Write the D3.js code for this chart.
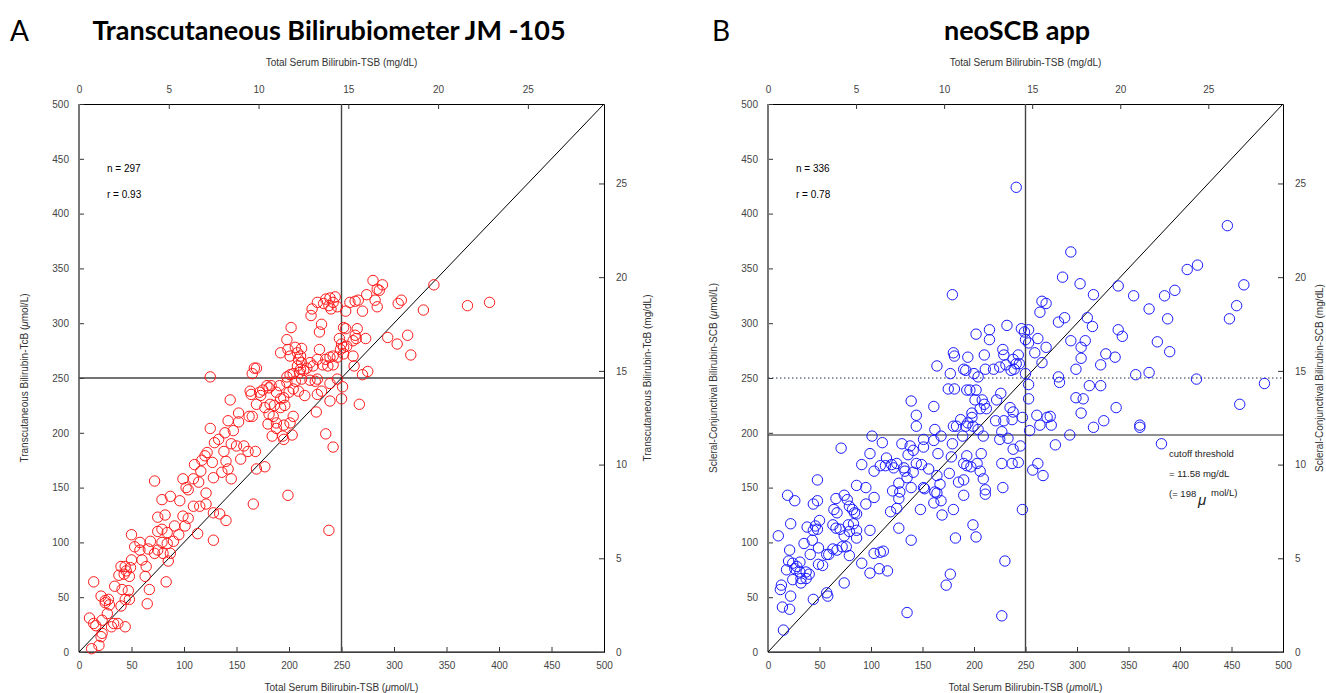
<!DOCTYPE html>
<html>
<head>
<meta charset="utf-8">
<script src="https://cdn.jsdelivr.net/npm/d3@7"></script>
<style>
  body { margin: 0; background: #fff; }
  svg text { font-family: "Liberation Sans", Arial, sans-serif; }
</style>
</head>
<body>
<div id="chart"></div>
<script>
// values in umol/L: [TSB, device]
const jmPoints = [
  [12,3],[19,6],[21,14],[22,17],[10,31],[14,26],[16,24],[22,29],[27,35],[33,26],[37,26],[31,23],[44,23],
  [25,45],[28,48],[21,51],[25,47],[29,43],[40,42],[48,48],[44,48],[14,64],[34,60],[41,57],[47,56],[43,71],
  [48,69],[40,78],[44,78],[49,77],[45,74],[38,70],[65,44],[67,57],[83,64],[63,69],[64,78],[60,84],[50,84],
  [58,93],[53,96],[58,100],[50,107],[66,94],[72,90],[68,101],[75,93],[80,90],[85,83],[87,90],[79,100],
  [84,99],[90,101],[75,110],[79,112],[84,109],[91,115],[95,107],[101,115],[75,123],[82,125],[99,124],
  [104,122],[113,108],[128,102],[109,133],[115,133],[121,135],[128,127],[134,126],[140,120],[96,138],
  [79,139],[87,142],[72,156],[99,158],[102,150],[104,148],[109,158],[114,155],[110,171],[116,165],[121,145],
  [128,159],[136,164],[145,158],[142,167],[140,174],[127,173],[117,175],[122,182],[120,179],[129,191],
  [133,194],[138,183],[139,200],[147,202],[142,211],[152,218],[144,230],[152,210],[125,204],[145,190],
  [150,188],[125,251],
  [280,339],[289,335],[284,331],[286,330],[274,326],[282,321],[284,315],[266,321],[263,320],[258,319],
  [254,311],[270,311],[244,324],[239,323],[235,322],[242,319],[238,316],[246,315],[240,313],[233,318],
  [227,319],[222,313],[221,307],[231,299],[229,292],[202,296],[252,296],[254,295],[265,295],[263,289],
  [261,284],[264,286],[273,286],[248,286],[250,281],[252,278],[255,279],[249,276],[252,272],[261,270],
  [242,270],[246,269],[262,261],[270,253],[275,256],[294,287],[303,281],[313,289],[316,271],[304,318],
  [307,321],[328,312],[338,335],[198,285],[192,273],[199,276],[206,278],[212,277],[208,273],[211,270],
  [201,270],[209,267],[212,264],[208,261],[211,258],[220,264],[227,267],[229,276],[235,267],[237,261],
  [232,262],[239,269],[242,262],[217,259],[223,261],[167,259],[169,259],[165,254],[198,251],[201,253],
  [204,254],[210,255],[214,257],[227,249],[225,247],[220,248],[212,249],[206,247],[198,246],[191,243],
  [183,243],[181,241],[179,243],[175,239],[172,237],[163,238],[164,235],[169,226],[173,234],[188,237],
  [192,231],[195,232],[200,237],[204,240],[209,238],[215,234],[227,235],[231,238],[239,245],[246,249],
  [251,242],[250,231],[239,229],[267,226],[226,219],[204,215],[201,209],[195,207],[188,209],[185,215],
  [181,217],[165,215],[162,215],[180,208],[196,225],[192,223],[186,225],[182,226],[177,223],[188,204],
  [184,197],[194,197],[203,198],[195,194],[235,199],[242,187],[157,188],[161,183],[168,183],[154,176],
  [169,167],[177,169],[199,143],[166,135],[238,111],[370,316],[391,319]
];

const scbPoints = [
  [179,326],[202,290],[215,294],[215,285],[180,273],[181,270],[194,269],[210,271],[228,276],[229,271],
  [232,298],[164,261],[190,258],[192,257],[200,254],[204,251],[211,258],[219,258],[225,260],[231,262],
  [177,254],[175,240],[181,240],[193,239],[196,239],[202,239],[201,230],[208,230],[210,226],[206,222],
  [212,222],[222,230],[226,236],[198,218],[198,214],[187,212],[180,206],[183,206],[192,206],[194,209],
  [199,206],[204,203],[209,197],[221,211],[227,201],[225,194],[189,197],[179,190],[207,181],[227,172],
  [228,150],[193,179],[190,172],[193,170],[197,169],[203,172],[206,165],[209,158],[211,148],[211,144],
  [190,157],[185,155],[190,143],[180,130],[199,116],[202,105],[182,104],[177,71],[173,61],[135,36],
  [227,33],[230,83],[139,229],[144,216],[144,206],[161,224],[162,203],[168,197],[178,178],[176,163],
  [161,193],[165,181],[156,167],[151,187],[151,194],[141,184],[138,188],[130,190],[136,180],[144,172],
  [149,171],[151,150],[152,149],[164,161],[167,153],[162,146],[168,138],[161,136],[169,125],[164,145],
  [141,164],[133,165],[135,159],[139,150],[148,130],[127,154],[128,146],[121,147],[127,140],[119,128],
  [125,131],[127,113],[139,102],[115,177],[114,170],[111,191],[109,170],[99,181],[101,197],[91,171],
  [103,165],[125,172],[122,168],[132,168],[120,171],[71,186],[86,152],[95,150],[103,141],[95,135],
  [74,143],[66,140],[77,139],[79,133],[82,130],[84,127],[86,126],[64,130],[67,127],[48,157],[19,143],
  [26,138],[44,135],[48,138],[50,120],[46,115],[38,114],[44,111],[48,112],[22,117],[10,106],[63,116],
  [66,113],[70,112],[78,116],[83,117],[86,111],[79,110],[74,106],[86,104],[76,96],[72,96],[67,93],
  [63,94],[59,89],[57,89],[79,88],[49,95],[41,89],[35,99],[43,102],[49,80],[53,79],[21,93],[20,83],
  [24,81],[28,78],[31,82],[26,76],[18,75],[24,66],[31,73],[37,73],[40,71],[32,67],[32,63],[37,67],
  [13,61],[12,57],[22,51],[14,41],[21,39],[15,20],[44,48],[57,54],[58,51],[74,63],[91,81],[99,111],
  [99,72],[103,90],[108,76],[109,91],[112,92],[116,74],
  [241,424],[446,389],[294,365],[286,342],[303,336],[316,326],[340,334],[355,325],[385,325],[395,330],
  [407,349],[417,353],[462,335],[266,320],[270,318],[264,310],[288,305],[282,301],[310,305],[315,297],
  [370,313],[388,304],[448,304],[455,316],[246,295],[253,294],[249,292],[250,285],[253,282],[262,286],
  [270,278],[259,273],[266,264],[294,284],[308,284],[304,278],[304,268],[299,258],[328,272],[337,269],
  [323,262],[340,294],[344,288],[378,283],[390,274],[357,253],[370,255],[416,249],[482,245],[458,226],
  [282,251],[283,246],[312,243],[323,243],[299,232],[306,231],[304,218],[338,223],[326,211],[316,205],
  [361,207],[361,205],[293,198],[279,189],[382,190],[250,254],[253,244],[253,231],[243,271],[238,267],
  [241,263],[239,258],[244,263],[236,257],[235,223],[238,219],[237,212],[247,214],[229,211],[233,195],
  [238,185],[245,188],[254,202],[261,216],[264,207],[271,214],[275,207],[274,215],[237,172],[243,173],
  [262,172],[257,166],[267,161],[247,130]
];

const umolTicks = [0, 50, 100, 150, 200, 250, 300, 350, 400, 450, 500];
const mgTicks = [0, 5, 10, 15, 20, 25];
const MG_TO_UMOL = 17.1;

const panels = [
  { letter: "A", title: "Transcutaneous Bilirubiometer JM -105", titleX: 329, letterX: 10,
    left: 79, right: 604, rightTitle: 651, points: jmPoints, color: "#ff1a1a",
    yName: "Transcutaneous Bilirubin-TcB", n: "n = 297", r: "r = 0.93",
    hLines: [{ v: 250, dash: null, color: "#444", w: 1.4 }] },
  { letter: "B", title: "neoSCB app", titleX: 1017, letterX: 712,
    left: 768, right: 1283, rightTitle: 1323, points: scbPoints, color: "#1a1aff",
    yName: "Scleral-Conjunctival Bilirubin-SCB", n: "n = 336", r: "r = 0.78",
    hLines: [{ v: 250, dash: "1.5,2.5", color: "#234", w: 1.2 }, { v: 198, dash: null, color: "#222", w: 1.2 }] }
];

const plotTop = 104, plotBottom = 652;
const W = 1326, H = 693;

const svg = d3.select("#chart").append("svg")
    .attr("width", W)
    .attr("height", H);

panels.forEach(function(p) {
  const x = d3.scaleLinear().domain([0, 500]).range([p.left, p.right]);
  const y = d3.scaleLinear().domain([0, 500]).range([plotBottom, plotTop]);
  const xm = d3.scaleLinear().domain([0, 500 / MG_TO_UMOL]).range([p.left, p.right]);
  const ym = d3.scaleLinear().domain([0, 500 / MG_TO_UMOL]).range([plotBottom, plotTop]);
  const cx = (p.left + p.right) / 2;

  // heading
  svg.append("text").attr("x", p.letterX).attr("y", 41)
    .style("font-family", "Lato, 'Open Sans', sans-serif").style("font-size", "28px")
    .text(p.letter);
  svg.append("text").attr("x", p.titleX).attr("y", 40)
    .attr("text-anchor", "middle")
    .style("font-family", "Lato, 'Open Sans', sans-serif").style("font-weight", "bold")
    .style("font-size", "27px")
    .text(p.title);

  // axes, ticks inside
  const g = svg.append("g");
  g.append("g").attr("transform", "translate(0," + plotBottom + ")")
    .call(d3.axisBottom(x).tickValues(umolTicks).tickSizeInner(-5).tickSizeOuter(0).tickPadding(10));
  g.append("g").attr("transform", "translate(0," + plotTop + ")")
    .call(d3.axisTop(xm).tickValues(mgTicks).tickSizeInner(-5).tickSizeOuter(0).tickPadding(11));
  g.append("g").attr("transform", "translate(" + p.left + ",0)")
    .call(d3.axisLeft(y).tickValues(umolTicks).tickSizeInner(-5).tickSizeOuter(0).tickPadding(10));
  g.append("g").attr("transform", "translate(" + p.right + ",0)")
    .call(d3.axisRight(ym).tickValues(mgTicks).tickSizeInner(-5).tickSizeOuter(0).tickPadding(12));
  g.selectAll(".tick text").style("font-size", "10px").attr("fill", "#444")
    .style("font-family", "'Liberation Sans', Arial, sans-serif");
  g.selectAll(".tick line").attr("stroke", "#333");
  g.selectAll(".domain").attr("stroke", "#000").attr("stroke-width", 1);

  // left and bottom axis lines are heavier and grey
  svg.append("line").attr("x1", p.left).attr("x2", p.left).attr("y1", plotTop).attr("y2", plotBottom)
    .attr("stroke", "#777").attr("stroke-width", 2);
  svg.append("line").attr("x1", p.left).attr("x2", p.right).attr("y1", plotBottom).attr("y2", plotBottom)
    .attr("stroke", "#555").attr("stroke-width", 1.6);

  // axis titles
  svg.append("text").attr("x", cx).attr("y", 66).attr("text-anchor", "middle")
    .style("font-size", "10px").attr("fill", "#333")
    .text("Total Serum Bilirubin-TSB (mg/dL)");
  const bt = svg.append("text").attr("x", cx).attr("y", 691).attr("text-anchor", "middle")
    .style("font-size", "10px").attr("fill", "#333");
  bt.append("tspan").text("Total Serum Bilirubin-TSB (");
  bt.append("tspan").style("font-style", "italic").text("\u03bc");
  bt.append("tspan").text("mol/L)");

  const lt = svg.append("text")
    .attr("transform", "translate(" + (p.left - 51) + "," + ((plotTop + plotBottom) / 2) + ") rotate(-90)")
    .attr("text-anchor", "middle").style("font-size", "10px").attr("fill", "#333");
  lt.append("tspan").text(p.yName + " (");
  lt.append("tspan").style("font-style", "italic").text("\u03bc");
  lt.append("tspan").text("mol/L)");

  svg.append("text")
    .attr("transform", "translate(" + p.rightTitle + "," + ((plotTop + plotBottom) / 2) + ") rotate(-90)")
    .attr("text-anchor", "middle").style("font-size", "10px").attr("fill", "#333")
    .text(p.yName + " (mg/dL)");

  // reference lines
  svg.append("line").attr("x1", x(250)).attr("x2", x(250)).attr("y1", plotTop).attr("y2", plotBottom)
    .attr("stroke", "#444").attr("stroke-width", 1.4);
  p.hLines.forEach(function(h) {
    svg.append("line").attr("x1", p.left).attr("x2", p.right).attr("y1", y(h.v)).attr("y2", y(h.v))
      .attr("stroke", h.color).attr("stroke-width", h.w)
      .attr("stroke-dasharray", h.dash);
  });
  svg.append("path").datum([[0, 0], [500, 500]])
    .attr("fill", "none").attr("stroke", "#000").attr("stroke-width", 1)
    .attr("d", d3.line().x(d => x(d[0])).y(d => y(d[1])));

  // points
  svg.append("g").selectAll("circle").data(p.points).enter().append("circle")
    .attr("cx", d => x(d[0]))
    .attr("cy", d => y(d[1]))
    .attr("r", 5.2)
    .attr("fill", "none")
    .attr("stroke", p.color)
    .attr("stroke-width", 1);

  // stats
  svg.append("text").attr("x", p.left + 28).attr("y", 172).style("font-size", "10px").text(p.n);
  svg.append("text").attr("x", p.left + 28).attr("y", 198).style("font-size", "10px").text(p.r);
});

// cutoff note on panel B
const note = svg.append("g").style("font-size", "9.5px").attr("fill", "#222");
note.append("text").attr("x", 1169).attr("y", 457).text("cutoff threshold");
note.append("text").attr("x", 1169).attr("y", 477).text("= 11.58 mg/dL");
note.append("text").attr("x", 1169).attr("y", 497).text("(= 198");
note.append("text").attr("x", 1198).attr("y", 505).style("font-size", "15px").style("font-style", "italic").text("\u03bc");
note.append("text").attr("x", 1211).attr("y", 496).text("mol/L)");
</script>
</body>
</html>
